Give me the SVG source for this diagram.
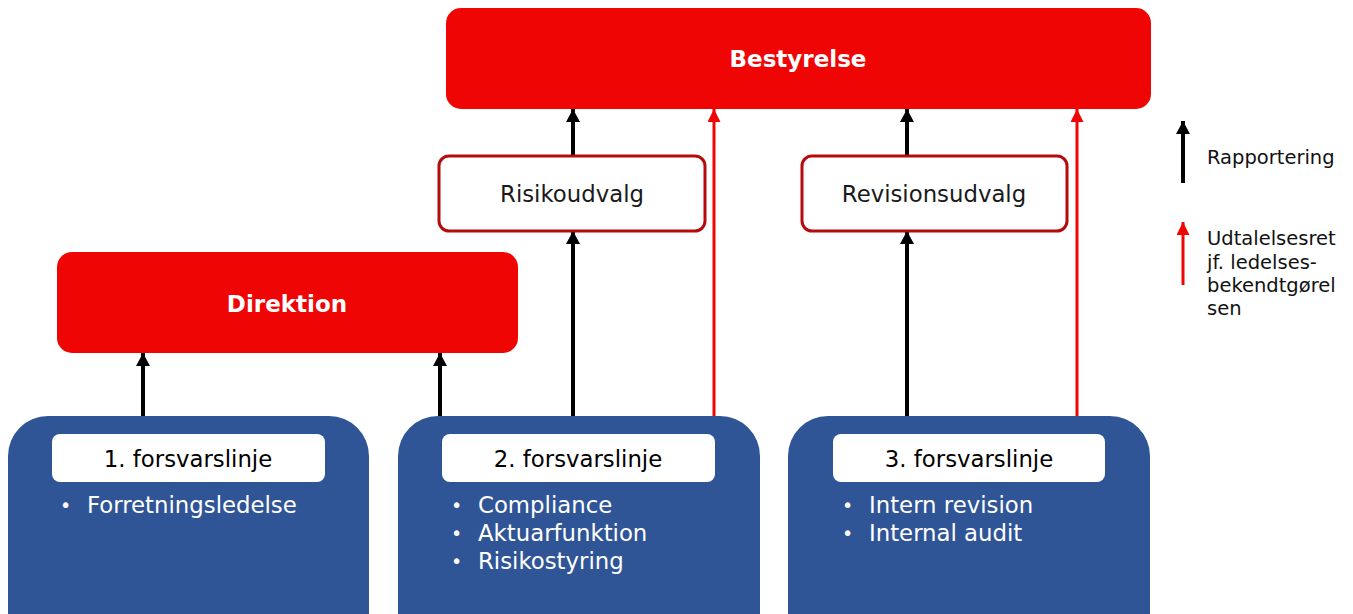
<svg xmlns="http://www.w3.org/2000/svg" width="1353" height="614" viewBox="0 0 1353 614">
<style>
text{font-family:"DejaVu Sans","Verdana",sans-serif;}
.red{fill:#f00505;}
.hd{fill:#fff;font-weight:bold;font-size:23px;text-anchor:middle;}
.cm{fill:#fff;stroke:#b40c0c;stroke-width:3;}
.cmt{fill:#1a1a1a;font-size:22.8px;text-anchor:middle;}
.blue{fill:#2f5597;}
.lbl{fill:#fff;}
.lblt{fill:#000;font-size:22.8px;text-anchor:middle;}
.bul{fill:#fff;font-size:22.8px;}
.dot{fill:#fff;font-size:19px;}
.leg{fill:#111;font-size:19.5px;}
.ab{stroke:#000;stroke-width:4;fill:none;marker-end:url(#mb);}
.ar{stroke:#f00505;stroke-width:3;fill:none;marker-end:url(#mr);}
</style>
<defs>
<marker id="mb" markerUnits="userSpaceOnUse" markerWidth="16" markerHeight="16" refX="13" refY="7" orient="auto"><path d="M0,0 L13,7 L0,14 z" fill="#000"/></marker>
<marker id="mr" markerUnits="userSpaceOnUse" markerWidth="16" markerHeight="16" refX="13" refY="6.5" orient="auto"><path d="M0,0 L13,6.5 L0,13 z" fill="#f00505"/></marker>
</defs>
<rect width="1353" height="614" fill="#fff"/>
<g id="connectors">
<line class="ab" x1="143" y1="416" x2="143" y2="353"/>
<line class="ab" x1="440" y1="416" x2="440" y2="353"/>
<line class="ab" x1="573" y1="416" x2="573" y2="231"/>
<line class="ab" x1="573" y1="156" x2="573" y2="109"/>
<line class="ar" x1="714" y1="416" x2="714" y2="109"/>
<line class="ab" x1="907" y1="416" x2="907" y2="231"/>
<line class="ab" x1="907" y1="156" x2="907" y2="109"/>
<line class="ar" x1="1077" y1="416" x2="1077" y2="109"/>
</g>
<g id="bestyrelse">
<rect class="red" x="446" y="8" width="705" height="101" rx="15"/>
<text class="hd" x="798" y="67">Bestyrelse</text>
</g>
<g id="risikoudvalg">
<rect class="cm" x="439" y="156" width="266" height="75" rx="10"/>
<text class="cmt" x="572" y="202">Risikoudvalg</text>
</g>
<g id="revisionsudvalg">
<rect class="cm" x="802" y="156" width="265" height="75" rx="10"/>
<text class="cmt" x="934" y="202">Revisionsudvalg</text>
</g>
<g id="direktion">
<rect class="red" x="57" y="252" width="461" height="101" rx="15"/>
<text class="hd" x="287" y="312">Direktion</text>
</g>
<g id="linje1">
<rect class="blue" x="8" y="416" width="361" height="240" rx="40"/>
<rect class="lbl" x="52" y="434" width="273" height="48" rx="8"/>
<text class="lblt" x="188" y="467">1. forsvarslinje</text>
<text class="dot" x="60" y="512">•</text>
<text class="bul" x="87" y="513">Forretningsledelse</text>
</g>
<g id="linje2">
<rect class="blue" x="398" y="416" width="362" height="240" rx="40"/>
<rect class="lbl" x="442" y="434" width="273" height="48" rx="8"/>
<text class="lblt" x="578" y="467">2. forsvarslinje</text>
<text class="dot" x="451" y="512">•</text>
<text class="bul" x="478" y="513">Compliance</text>
<text class="dot" x="451" y="540">•</text>
<text class="bul" x="478" y="541">Aktuarfunktion</text>
<text class="dot" x="451" y="568">•</text>
<text class="bul" x="478" y="569">Risikostyring</text>
</g>
<g id="linje3">
<rect class="blue" x="788" y="416" width="362" height="240" rx="40"/>
<rect class="lbl" x="833" y="434" width="272" height="48" rx="8"/>
<text class="lblt" x="969" y="467">3. forsvarslinje</text>
<text class="dot" x="842" y="512">•</text>
<text class="bul" x="869" y="513">Intern revision</text>
<text class="dot" x="842" y="540">•</text>
<text class="bul" x="869" y="541">Internal audit</text>
</g>
<g id="legend">
<line class="ab" x1="1183" y1="183" x2="1183" y2="121"/>
<text class="leg" x="1207" y="164">Rapportering</text>
<line class="ar" x1="1183" y1="285" x2="1183" y2="222"/>
<text class="leg" x="1207" y="245">Udtalelsesret</text>
<text class="leg" x="1207" y="269">jf. ledelses-</text>
<text class="leg" x="1207" y="292">bekendtgørel</text>
<text class="leg" x="1207" y="315">sen</text>
</g>
</svg>
